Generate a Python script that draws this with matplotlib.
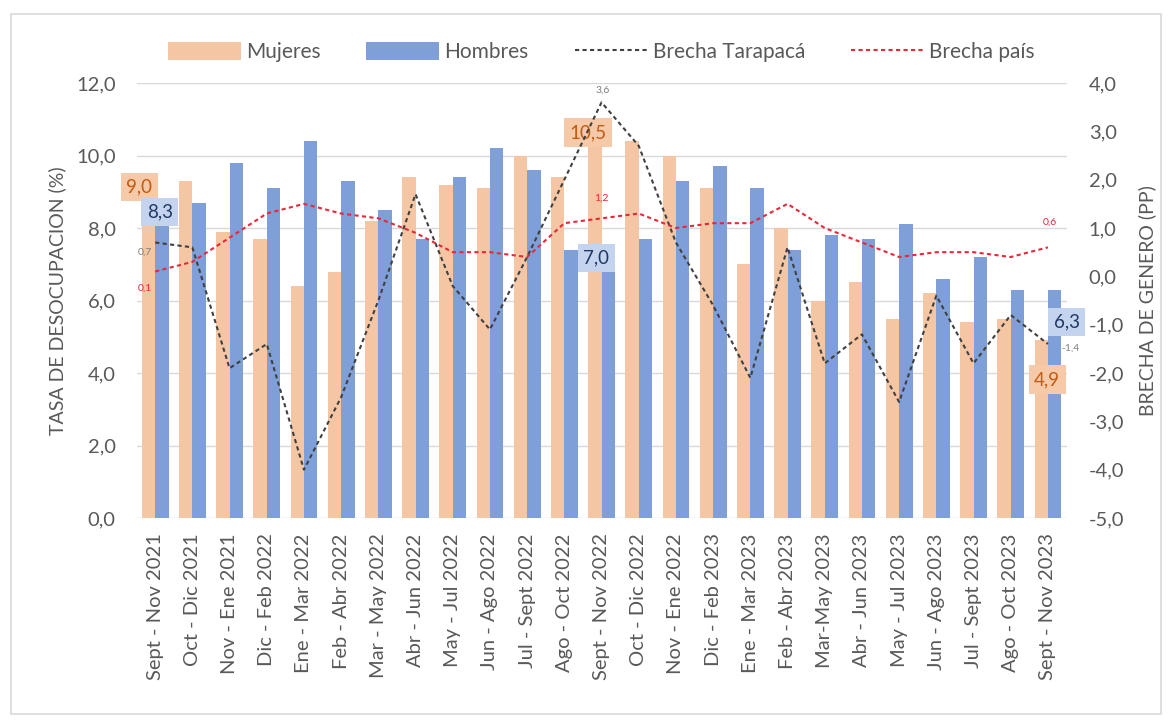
import matplotlib

matplotlib.use("Agg")

import matplotlib.pyplot as plt
import numpy as np
from matplotlib.lines import Line2D
from matplotlib.patches import Patch, Rectangle
from matplotlib.ticker import FuncFormatter, MultipleLocator

plt.rcParams["font.family"] = ["Lato", "DejaVu Sans"]

periods = [
    "Sept - Nov 2021", "Oct - Dic 2021", "Nov - Ene 2021", "Dic - Feb 2022",
    "Ene - Mar 2022", "Feb - Abr 2022", "Mar - May 2022", "Abr - Jun 2022",
    "May - Jul 2022", "Jun - Ago 2022", "Jul - Sept 2022", "Ago - Oct 2022",
    "Sept - Nov 2022", "Oct - Dic 2022", "Nov - Ene 2022", "Dic - Feb 2023",
    "Ene - Mar 2023", "Feb - Abr 2023", "Mar-May 2023", "Abr - Jun 2023",
    "May - Jul 2023", "Jun - Ago 2023", "Jul - Sept 2023", "Ago - Oct 2023",
    "Sept - Nov 2023",
]
mujeres = [9.0, 9.3, 7.9, 7.7, 6.4, 6.8, 8.2, 9.4, 9.2, 9.1, 10.0, 9.4, 10.5,
           10.4, 10.0, 9.1, 7.0, 8.0, 6.0, 6.5, 5.5, 6.2, 5.4, 5.5, 4.9]
hombres = [8.3, 8.7, 9.8, 9.1, 10.4, 9.3, 8.5, 7.7, 9.4, 10.2, 9.6, 7.4, 7.0,
           7.7, 9.3, 9.7, 9.1, 7.4, 7.8, 7.7, 8.1, 6.6, 7.2, 6.3, 6.3]
brecha_tarapaca = [0.7, 0.6, -1.9, -1.4, -4.0, -2.5, -0.5, 1.7, -0.2, -1.1,
                   0.4, 2.0, 3.6, 2.7, 0.7, -0.6, -2.1, 0.6, -1.8, -1.2,
                   -2.6, -0.4, -1.8, -0.8, -1.4]
brecha_pais = [0.1, 0.3, 0.8, 1.3, 1.5, 1.3, 1.2, 0.9, 0.5, 0.5, 0.4, 1.1,
               1.2, 1.3, 1.0, 1.1, 1.1, 1.5, 1.0, 0.7, 0.4, 0.5, 0.5, 0.4, 0.6]

C_MUJ = "#F4C6A3"
C_HOM = "#7F9FD8"
C_TAR = "#404040"
C_PAIS = "#E8283A"
C_TXT = "#595959"
DASH = (0, (2, 1.6))


def coma(v, _=None):
    return f"{v:.1f}".replace(".", ",")


fig = plt.figure(figsize=(11.72, 7.23), dpi=100)
fig.patch.set_facecolor("white")
fig.add_artist(Rectangle((0.009, 0.012), 0.982, 0.968, transform=fig.transFigure,
                         fill=False, ec="#D9D9D9", lw=1.2))

ax = fig.add_axes([0.1165, 0.2835, 0.7935, 0.6017])
ax2 = ax.twinx()

x = np.arange(len(periods))
w = 0.36
ax.bar(x - w / 2, mujeres, w, color=C_MUJ, zorder=2)
ax.bar(x + w / 2, hombres, w, color=C_HOM, zorder=2)

ax.set_ylim(0, 12)
ax.set_xlim(-0.5, len(periods) - 0.5)
ax.yaxis.set_major_locator(MultipleLocator(2))
ax.yaxis.set_major_formatter(FuncFormatter(coma))
ax.grid(axis="y", color="#D9D9D9", lw=1.0, zorder=0)
ax.set_axisbelow(True)
ax.set_xticks(x)
ax.set_xticklabels(periods, rotation=90)
ax.tick_params(axis="y", length=0, colors=C_TXT, labelsize=14.5, pad=15)
ax.tick_params(axis="x", length=0, colors=C_TXT, labelsize=14.5, pad=11)
ax.set_ylabel("TASA DE DESOCUPACION (%)", fontsize=14, color=C_TXT, labelpad=7)

ax2.plot(x, brecha_tarapaca, color=C_TAR, lw=1.5, ls=DASH, zorder=3)
ax2.plot(x, brecha_pais, color=C_PAIS, lw=1.5, ls=DASH, zorder=3)
ax2.set_ylim(-5, 4)
ax2.yaxis.set_major_locator(MultipleLocator(1))
ax2.yaxis.set_major_formatter(FuncFormatter(coma))
ax2.tick_params(axis="y", length=0, colors=C_TXT, labelsize=14.5, pad=16)
ax2.set_ylabel("BRECHA DE GENERO (PP)", fontsize=14, color=C_TXT, labelpad=10)

for a in (ax, ax2):
    for s in a.spines.values():
        s.set_visible(False)

# bar data labels
box_m = dict(boxstyle="square,pad=0.3", fc="#F6C9A8", ec="none")
box_h = dict(boxstyle="square,pad=0.3", fc="#C5D4EE", ec="none")
bar_labels = [
    (0, -w / 2, mujeres, -9, 5, "#C55A11", box_m),
    (0, w / 2, hombres, -2, 5, "#1F3864", box_h),
    (12, -w / 2, mujeres, -7, 5, "#C55A11", box_m),
    (12, w / 2, hombres, -12, 6, "#1F3864", box_h),
    (24, w / 2, hombres, 12, -32, "#1F3864", box_h),
    (24, -w / 2, mujeres, 6, -39, "#C55A11", box_m),
]
for i, off, serie, dx, dy, col, box in bar_labels:
    ax.annotate(coma(serie[i]), xy=(i + off, serie[i]), xytext=(dx, dy),
                textcoords="offset pixels", ha="center", va="center",
                fontsize=13.5, color=col, bbox=box, zorder=5)

# line data labels
line_labels = [
    (0, brecha_tarapaca, -10, -10, "#7F7F7F"),
    (12, brecha_tarapaca, 1, 12, "#7F7F7F"),
    (24, brecha_tarapaca, 22, -4, "#7F7F7F"),
    (0, brecha_pais, -10, -17, C_PAIS),
    (12, brecha_pais, 0, 20, C_PAIS),
    (24, brecha_pais, 2, 25, C_PAIS),
]
for i, serie, dx, dy, col in line_labels:
    ax2.annotate(coma(serie[i]), xy=(i, serie[i]), xytext=(dx, dy),
                 textcoords="offset pixels", ha="center", va="center",
                 fontsize=7.5, color=col, zorder=4)

handles = [
    Patch(fc=C_MUJ, ec="none", label="Mujeres"),
    Patch(fc=C_HOM, ec="none", label="Hombres"),
    Line2D([], [], color=C_TAR, lw=1.5, ls=DASH, label="Brecha Tarapacá"),
    Line2D([], [], color=C_PAIS, lw=1.5, ls=DASH, label="Brecha país"),
]
leg = fig.legend(handles=handles, loc="center", bbox_to_anchor=(0.513, 0.928),
                 ncol=4, frameon=False, fontsize=15, handlelength=3.5,
                 handleheight=1.0, handletextpad=0.25, columnspacing=2.2)
for t in leg.get_texts():
    t.set_color(C_TXT)

fig.savefig("out.png", dpi=100, facecolor="white")
